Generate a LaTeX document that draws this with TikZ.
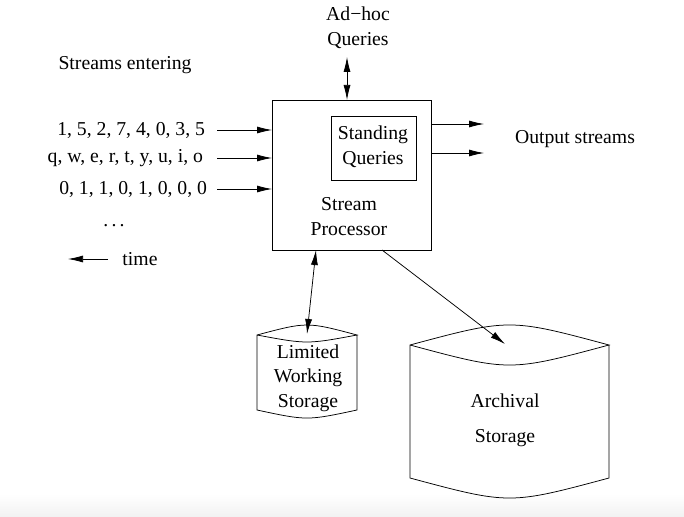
\documentclass[tikz,border=0pt]{standalone}
\usepackage{fontspec}
\setmainfont{Liberation Serif}
\usetikzlibrary{arrows.meta}
\begin{document}
\begin{tikzpicture}[x=1pt,y=-1pt,
  font=\fontsize{19.7}{24.5}\selectfont,
  every node/.style={inner sep=0pt, outer sep=0pt},
  line width=0.75pt,
  arr/.style={-{Latex[length=15pt,width=7pt]}},
  darr/.style={{Latex[length=15pt,width=7pt]}-{Latex[length=15pt,width=7pt]}},
  box/.style={draw, line width=0.85pt},
  lbl/.style={align=center}]
\useasboundingbox (0,0) rectangle (684,516);
\shade[top color=white, bottom color=black!5] (0,494) rectangle (684,516);

% stream processor
\node[box, minimum width=159pt, minimum height=150pt] (sp) at (351.5,175) {};
\node[box, minimum width=85pt, minimum height=64pt] (sq) at (373.5,148) {};
\node[lbl] (sqt) at (373,147) {Standing\\Queries};
\node[lbl] (spt) at (349,216.5) {Stream\\Processor};

% ad-hoc queries
\node[lbl] (adhoc) at (358,28) {Ad−hoc\\Queries};
\coordinate (aq) at (347,57);
\draw[darr] (aq) -- (aq |- sp.north);

% inputs
\node (t0) at (125,65) {Streams entering};
\node[anchor=east] (s1) at (205,130) {1, 5, 2, 7, 4, 0, 3, 5};
\node[anchor=east] (s2) at (203,158) {q, w, e, r, t, y, u, i, o};
\node[anchor=east] (s3) at (207,189) {0, 1, 1, 0, 1, 0, 0, 0};
\node (dots) at (114,226) {.\,.\,.};
\coordinate (i1) at (217,130);
\coordinate (i2) at (217,158);
\coordinate (i3) at (217,189);
\draw[arr] (i1) -- (i1 -| sp.west);
\draw[arr] (i2) -- (i2 -| sp.west);
\draw[arr] (i3) -- (i3 -| sp.west);
\coordinate (ta) at (108,259);
\coordinate (tb) at (68,259);
\draw[arr] (ta) -- (tb);
\node (time) at (140,259) {time};

% outputs
\coordinate (o1) at (484,124);
\coordinate (o2) at (484,153);
\draw[arr] (o1 -| sp.east) -- (o1);
\draw[arr] (o2 -| sp.east) -- (o2);
\node (out) at (575,139) {Output streams};

% limited working storage
\draw (257,335) .. controls (307,321.7) .. (357,335)
      .. controls (307,344.3) .. (257,335) -- (257,410)
      .. controls (307,420.7) .. (357,410) -- (357,335);
\coordinate (lws) at (307,334);
\node[lbl] (lwst) at (308,378) {Limited\\Working\\Storage};

% archival storage
\draw (410,345) .. controls (509.5,318.3) .. (609,345)
      .. controls (509.5,371.7) .. (410,345) -- (410,478)
      .. controls (509.5,504.7) .. (609,478) -- (609,345);
\coordinate (arch) at (505,344);
\node[lbl, font=\fontsize{19.7}{35}\selectfont] (archt) at (505,420.5) {Archival\\Storage};

% connectors to storage
\coordinate (spb1) at (316,250);
\coordinate (spb2) at (382,250);
\draw[darr] (lws) -- (spb1);
\draw[arr] (spb2) -- (arch);
\end{tikzpicture}
\end{document}
